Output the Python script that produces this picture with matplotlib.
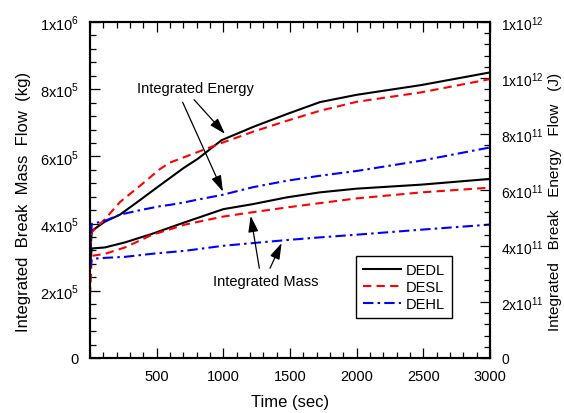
import matplotlib
matplotlib.use("Agg")
import matplotlib.pyplot as plt
from matplotlib.ticker import MultipleLocator, FixedLocator

plt.rcParams['font.family'] = ['Liberation Sans', 'DejaVu Sans']
plt.rcParams['mathtext.fontset'] = 'custom'
plt.rcParams['mathtext.rm'] = 'Liberation Sans'

# ── Data (time in sec) ───────────────────────────────────────────────────
t = [0, 13, 112, 262, 462, 712, 1000, 1222, 1475, 1725, 2000, 2487, 3000]

# integrated mass (kg), left axis
mass_dedl = [2.80e5, 3.26e5, 3.29e5, 3.44e5, 3.69e5, 4.04e5, 4.43e5, 4.58e5, 4.78e5, 4.93e5, 5.04e5, 5.16e5, 5.33e5]
mass_desl = [1.85e5, 3.04e5, 3.10e5, 3.29e5, 3.66e5, 3.97e5, 4.21e5, 4.34e5, 4.48e5, 4.61e5, 4.75e5, 4.93e5, 5.07e5]
mass_dehl = [2.65e5, 2.95e5, 2.98e5, 3.01e5, 3.10e5, 3.19e5, 3.34e5, 3.42e5, 3.51e5, 3.59e5, 3.67e5, 3.82e5, 3.97e5]

# integrated energy (J), right axis
t_e = [0, 13, 112, 225, 375, 525, 600, 700, 810, 987, 1222, 1475, 1725, 2000, 2487, 3000]
energy_dedl = [3.54e11, 4.54e11, 4.87e11, 5.12e11, 5.64e11, 6.17e11, 6.43e11, 6.78e11, 7.12e11, 7.78e11, 8.25e11, 8.71e11, 9.14e11, 9.40e11, 9.75e11, 1.02e12]
energy_desl = [3.90e11, 4.49e11, 4.96e11, 5.57e11, 6.15e11, 6.75e11, 6.98e11, 7.16e11, 7.36e11, 7.68e11, 8.08e11, 8.47e11, 8.83e11, 9.15e11, 9.49e11, 9.96e11]
energy_dehl = [3.70e11, 4.79e11, 4.90e11, 5.12e11, 5.28e11, 5.42e11, 5.47e11, 5.55e11, 5.66e11, 5.82e11, 6.10e11, 6.33e11, 6.51e11, 6.68e11, 7.05e11, 7.52e11]

labels = ["DEDL", "DESL", "DEHL"]
left_ticks = [0, 2e5, 4e5, 6e5, 8e5, 1e6]
left_ticklabels = ["0", r"2x10$^{5}$", r"4x10$^{5}$", r"6x10$^{5}$", r"8x10$^{5}$", r"1x10$^{6}$"]
right_ticks = [0, 2e11, 4e11, 6e11, 8e11, 1e12, 1.2e12]
right_ticklabels = ["0", r"2x10$^{11}$", r"4x10$^{11}$", r"6x10$^{11}$", r"8x10$^{11}$",
                    r"1x10$^{12}$", r"1x10$^{12}$"]

# ── Figure ───────────────────────────────────────────────────────────────
fig = plt.figure(figsize=(5.64, 4.14), dpi=100)
ax = fig.add_axes([0.1596, 0.1329, 0.7092, 0.8115])
ax2 = ax.twinx()

dash = (0, (4, 2.5))
dashdot = (0, (5, 2, 1.2, 2))
colors = ["black", "#ff0000", "#0000ff"]
styles = ["-", dash, dashdot]

lines = []
for m, c, s, lab in zip([mass_dedl, mass_desl, mass_dehl], colors, styles, labels):
    ln, = ax.plot(t, m, color=c, linestyle=s, lw=1.5, label=lab)
    lines.append(ln)
for e, c, s in zip([energy_dedl, energy_desl, energy_dehl], colors, styles):
    ax2.plot(t_e, e, color=c, linestyle=s, lw=1.5)

ax.set_xlim(0, 3000)
ax.set_ylim(0, 1e6)
ax2.set_ylim(0, 1.2e12)

ax.xaxis.set_major_locator(FixedLocator([500, 1000, 1500, 2000, 2500, 3000]))
ax.xaxis.set_minor_locator(MultipleLocator(100))
ax.set_yticks(left_ticks)
ax.set_yticklabels(left_ticklabels)
ax.yaxis.set_minor_locator(MultipleLocator(4e4))
ax2.set_yticks(right_ticks)
ax2.set_yticklabels(right_ticklabels)
ax2.yaxis.set_minor_locator(MultipleLocator(4e10))

ax.tick_params(axis='x', which='both', direction='in', top=True, labelsize=10.5, pad=8)
ax.tick_params(axis='y', which='both', direction='in', right=False, labelsize=10.5, pad=8)
ax2.tick_params(axis='y', which='both', direction='in', labelsize=10, pad=8)
for a in (ax, ax2):
    a.tick_params(which='major', length=7.5, width=0.9)
    a.tick_params(which='minor', length=4, width=0.9)
    for sp in a.spines.values():
        sp.set_linewidth(1.5)

ax.set_xlabel("Time (sec)", fontsize=12, labelpad=8)
ax.set_ylabel("Integrated  Break  Mass  Flow  (kg)", fontsize=12, labelpad=6, y=0.467)
ax2.set_ylabel("Integrated   Break   Energy   Flow   (J)", fontsize=11)
ax2.yaxis.set_label_coords(1.145, 0.467)

# ── Annotations ──────────────────────────────────────────────────────────
arrow = dict(arrowstyle='-|>,head_length=0.7,head_width=0.22', color='black',
             lw=0.9, mutation_scale=14, shrinkA=0, shrinkB=0)
ax2.text(787, 8.04e5 * 1.2e6, "Integrated Energy", ha='center', va='center', fontsize=10.5)
ax2.annotate("", xy=(1012, 6.67e5 * 1.2e6), xytext=(780, 7.69e5 * 1.2e6), arrowprops=arrow)
ax2.annotate("", xy=(997, 4.95e5 * 1.2e6), xytext=(695, 7.61e5 * 1.2e6), arrowprops=arrow)
ax2.text(1320, 2.30e5 * 1.2e6, "Integrated Mass", ha='center', va='center', fontsize=10.5)
ax2.annotate("", xy=(1205, 4.23e5 * 1.2e6), xytext=(1270, 2.67e5 * 1.2e6), arrowprops=arrow)
ax2.annotate("", xy=(1437, 3.42e5 * 1.2e6), xytext=(1350, 2.67e5 * 1.2e6), arrowprops=arrow)

leg = ax2.legend(lines, labels, loc='lower left', bbox_to_anchor=(0.665, 0.119),
                 borderaxespad=0, fontsize=10.5, handlelength=2.6, handletextpad=0.3,
                 labelspacing=0.2, fancybox=False, framealpha=1, edgecolor='black',
                 borderpad=0.5)
leg.get_frame().set_linewidth(1.0)

fig.savefig("out.png", dpi=100)
